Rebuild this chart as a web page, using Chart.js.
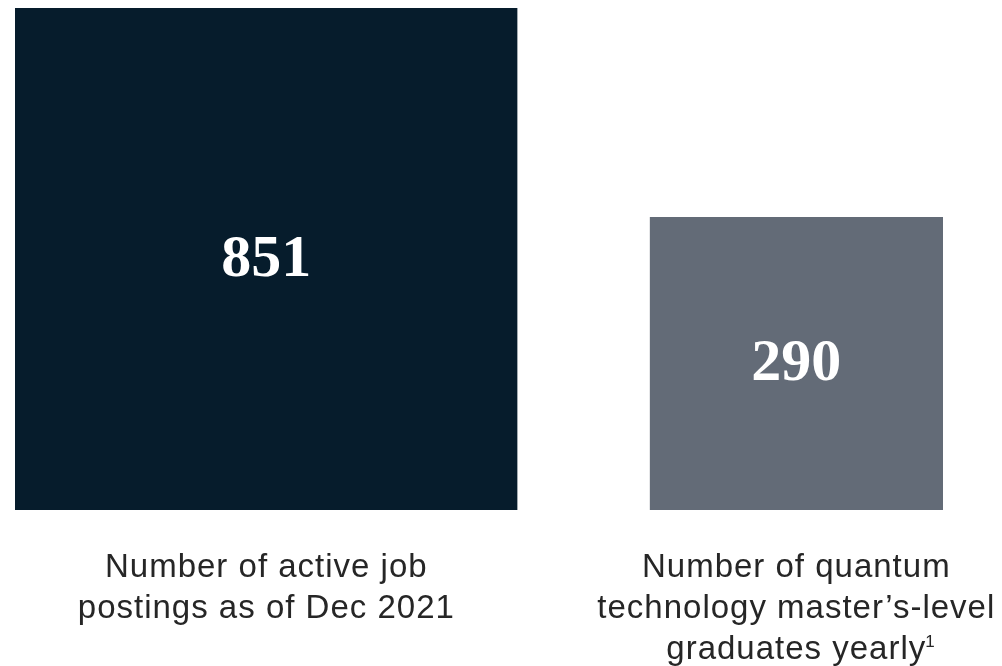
<!DOCTYPE html>
<html>
<head>
<meta charset="utf-8">
<script src="https://cdn.jsdelivr.net/npm/chart.js@4.4.0/dist/chart.umd.min.js"></script>
<style>
  html, body { margin: 0; padding: 0; background: #fff; }
  #wrap { width: 1002px; height: 666px; position: relative; }
</style>
</head>
<body>
<div id="wrap"><canvas id="myChart"></canvas></div>
<script>
var values = [851, 290];
var captions = [
  ["Number of active job", "postings as of Dec 2021"],
  ["Number of quantum", "technology master\u2019s-level", "graduates yearly"]
];
var footnotes = ["", "1"];
var colors = ["#061c2c", "#636b77"];

// squares: area ~ value, so side = sqrt(value); gap between squares in the same units
var gap = 7.66;
var sides = values.map(function(v) { return Math.sqrt(v); });
var starts = [0, sides[0] + gap];

var datasets = values.map(function(v, i) {
  return {
    label: String(v),
    data: [{x: starts[i], y: sides[i]}, {x: starts[i] + sides[i], y: sides[i]}],
    showLine: true,
    fill: 'origin',
    backgroundColor: colors[i],
    borderColor: colors[i],
    borderWidth: 0,
    pointRadius: 0,
    pointHoverRadius: 0
  };
});

var captionFont = '33px "Liberation Sans", Arial, sans-serif';

var labelPlugin = {
  id: 'labels',
  afterDraw: function(chart) {
    var c = chart.ctx;
    var xs = chart.scales.x, ys = chart.scales.y;
    c.save();
    values.forEach(function(v, i) {
      var cx = xs.getPixelForValue(starts[i] + sides[i] / 2);
      var cy = ys.getPixelForValue(sides[i] / 2);
      c.letterSpacing = '0px';
      c.fillStyle = '#ffffff';
      c.font = 'bold 60px "Liberation Serif", "DejaVu Serif", serif';
      c.textAlign = 'center';
      c.textBaseline = 'middle';
      c.fillText(String(v), cx, cy + 1);

      var base = ys.getPixelForValue(0);
      c.fillStyle = '#262626';
      c.font = captionFont;
      c.letterSpacing = '1px';
      c.textBaseline = 'alphabetic';
      captions[i].forEach(function(line, j) {
        var y = base + 67 + j * 41;
        c.textAlign = 'center';
        c.fillText(line, cx, y);
        if (j === captions[i].length - 1 && footnotes[i]) {
          var w = c.measureText(line).width;
          c.letterSpacing = '0px';
          c.font = '17px "Liberation Sans", Arial, sans-serif';
          c.textAlign = 'left';
          c.fillText(footnotes[i], cx + w / 2 - 1, y - 12);
          c.font = captionFont;
          c.letterSpacing = '1px';
        }
      });
    });
    c.restore();
  }
};

new Chart(document.getElementById('myChart'), {
  type: 'scatter',
  data: { datasets: datasets },
  options: {
    responsive: true,
    maintainAspectRatio: false,
    animation: false,
    layout: { padding: { left: 15, right: 59, top: 8, bottom: 156 } },
    plugins: { legend: { display: false }, tooltip: { enabled: false } },
    scales: {
      x: { type: 'linear', display: false, min: 0, max: sides[0] + gap + sides[1] },
      y: { type: 'linear', display: false, min: 0, max: sides[0] }
    }
  },
  plugins: [labelPlugin]
});
</script>
</body>
</html>
